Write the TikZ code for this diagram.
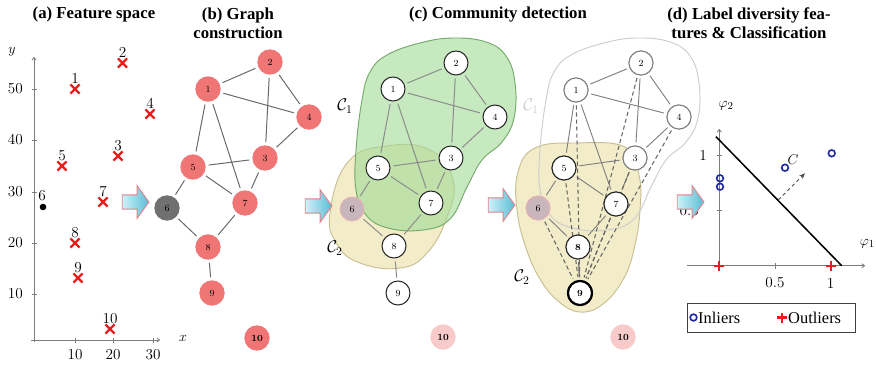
\documentclass[tikz,border=0pt]{standalone}
\usepackage{fontspec}
\newfontfamily\tfont{Liberation Serif}
\usetikzlibrary{arrows.meta,shapes.arrows,shapes.misc}
\definecolor{salmon}{RGB}{240,118,118}
\definecolor{darkg}{RGB}{112,112,112}
\definecolor{palepink}{RGB}{248,202,202}
\definecolor{gfill}{RGB}{160,218,150}
\definecolor{gline}{RGB}{115,170,105}
\definecolor{yfill}{RGB}{242,236,200}
\definecolor{yline}{RGB}{200,190,145}
\definecolor{edgec}{RGB}{105,105,105}
\definecolor{axc}{RGB}{125,125,125}
\definecolor{xred}{RGB}{232,30,30}
\definecolor{pblue}{RGB}{30,40,170}
\definecolor{arl}{RGB}{205,242,250}
\definecolor{arr}{RGB}{90,188,212}
\definecolor{arb}{RGB}{225,130,140}
\definecolor{sixc}{RGB}{200,182,188}
\definecolor{sixb}{RGB}{235,175,180}
\definecolor{cgrey}{RGB}{205,205,205}
\tikzset{
 title/.style={font=\tfont\bfseries\fontsize{14.3}{16.2}\selectfont, align=center},
 axis/.style={draw=axc, line width=0.7pt, -{To[length=3pt,width=4pt]}},
 tickm/.style={draw=axc, line width=0.6pt},
 ticklab/.style={font=\fontsize{13}{13}\selectfont, inner sep=0pt},
 plab/.style={font=\fontsize{13}{13}\selectfont, inner sep=1pt},
 xm/.style={cross out, draw=xred, line width=1.9pt, minimum size=0.21cm, inner sep=0pt},
 nfont/.style={font=\fontsize{8}{8}\selectfont},
 rn/.style={circle, fill=salmon, minimum size=0.76cm, inner sep=0pt, nfont},
 wn/.style={circle, draw=black!85, line width=0.9pt, fill=white, minimum size=0.72cm, inner sep=0pt, nfont},
 gn/.style={wn, draw=black!50},
 sixn/.style={circle, fill=sixc, draw=sixb, line width=0.6pt, minimum size=0.72cm, inner sep=0pt, nfont},
 tenn/.style={circle, fill=palepink, minimum size=0.76cm, inner sep=0pt, nfont, font=\fontsize{8}{8}\selectfont\bfseries},
 edge/.style={draw=edgec, line width=0.85pt},
 ledge/.style={draw=black!50, line width=0.8pt},
 dedge/.style={draw=black!60, line width=0.9pt, dash pattern=on 3.5pt off 2.5pt},
 blockarrow/.style={single arrow, left color=arl, right color=arr, draw=arb, line width=0.8pt,
   minimum height=0.8cm, inner sep=0.2cm, single arrow head extend=0.27cm, single arrow tip angle=108},
 clab/.style={font=\fontsize{14}{14}\selectfont, inner sep=0pt},
 omark/.style={circle, draw=pblue, line width=1.4pt, minimum size=0.2cm, inner sep=0pt},
 pmark/.style={draw=xred, line width=2pt},
 legtext/.style={font=\tfont\fontsize{14}{14}\selectfont, inner sep=0pt, anchor=west},
}
\begin{document}
\begin{tikzpicture}[x=0.03cm,y=-0.03cm]
\useasboundingbox (0,0) rectangle (876,368);

% ---------- titles
\node[title] (ta) at (94,14) {(a) Feature space};
\node[title] (tb) at (238,23.5) {(b) Graph\\construction};
\node[title] (tc) at (498,14) {(c) Community detection};
\node[title] (td) at (749,23.5) {(d) Label diversity fea-\\tures \& Classification};

% ---------- panel (a)
\draw[axis] (34,342) -- (34,57);
\draw[axis] (31,340) -- (160,340);
\foreach \yy/\lab in {89/50,140/40,192/30,243/20,294/10}{
  \draw[tickm] (31.5,\yy) -- (36.5,\yy);
  \node[ticklab, anchor=east] (yl\lab) at (23,\yy) {\lab};
}
\foreach \xx/\lab in {75/10,113/20,153/30}{
  \draw[tickm] (\xx,337.5) -- (\xx,342.5);
  \node[ticklab] (xl\lab) at (\xx,355) {\lab};
}
\node[ticklab] (ylab) at (12,52) {$y$};
\node[ticklab] (xlab) at (183,338) {$x$};
\foreach \n/\px/\py in {1/75/89, 2/122.5/63, 3/118/156, 4/150/114, 5/62/166, 7/103/202, 8/75/243, 9/78/278, 10/110/329}{
  \node[xm] (p\n) at (\px,\py) {};
  \node[plab, anchor=south] (pl\n) at (\px,\py-4) {\n};
}
\fill (43,207) circle (3.3);
\node[plab, anchor=south] (pl6) at (42,202) {6};

% ---------- panel (b)
\node[rn] (b1) at (208,89) {1};
\node[rn] (b2) at (270,62) {2};
\node[rn] (b4) at (309,117) {4};
\node[rn] (b3) at (265,158) {3};
\node[rn] (b5) at (193,167) {5};
\node[rn, fill=darkg] (b6) at (167,208) {6};
\node[rn] (b7) at (245,203) {7};
\node[rn] (b8) at (208,247) {8};
\node[rn] (b9) at (212,293) {9};
\node[rn, font=\fontsize{8}{8}\selectfont\bfseries] (b10) at (257,338) {10};
\begin{scope}[shorten <=2.5pt, shorten >=2.5pt]
\foreach \a/\b in {1/2,1/4,2/4,2/3,3/4,1/5,1/7,5/3,5/7,3/7,5/6,6/8,7/8,8/9}
  \draw[edge] (b\a) -- (b\b);
\end{scope}

% ---------- panel (c)
\filldraw[fill=yfill, draw=yline, line width=0.8pt] plot[smooth cycle, tension=0.75] coordinates {
 (330,213) (348,162) (387,146) (430,150) (453,180) (447,217) (427,253) (400,268) (360,263) (337,244)};
\filldraw[fill=gfill, draw=gline, line width=0.8pt, fill opacity=0.6] plot[smooth cycle, tension=0.7] coordinates {
 (362,100) (356,150) (356,190) (366,215) (388,228) (423,230) (450,219) (467,187) (482,160) (502,142) (514,118) (515,83) (506,56) (486,42) (453,38) (420,43) (387,55) (370,72)};
\node[clab] (c1lab) at (345,106) {$\mathcal{C}_1$};
\node[clab] (c2lab) at (335,248) {$\mathcal{C}_2$};
\node[wn] (c1) at (393,89) {1};
\node[wn] (c2) at (456,63) {2};
\node[wn] (c4) at (495,117) {4};
\node[wn] (c3) at (451,158) {3};
\node[wn] (c5) at (378,168) {5};
\node[sixn] (c6) at (352,209) {6};
\node[wn] (c7) at (431,203) {7};
\node[wn] (c8) at (394,246) {8};
\node[wn] (c9) at (398,293) {9};
\node[tenn] (c10) at (443,337) {10};
\begin{scope}[shorten <=2.5pt, shorten >=2.5pt]
\foreach \a/\b in {1/2,1/4,2/4,2/3,3/4,1/5,1/7,5/3,5/7,3/7,5/6,6/8,7/8,8/9}
  \draw[edge, draw=black!45] (c\a) -- (c\b);
\end{scope}

% ---------- panel (d) graph
\filldraw[fill=yfill, draw=yline, line width=0.8pt] plot[smooth cycle, tension=0.7] coordinates {
 (575,143) (625,147) (639,175) (640,210) (635,245) (624,278) (603,304) (580,312) (558,301) (540,279) (526,248) (517,210) (518,172) (535,148)};
\draw[draw=cgrey, line width=0.8pt] plot[smooth cycle, tension=0.7] coordinates {
 (546,100) (540,150) (540,190) (550,215) (572,228) (607,230) (634,219) (651,187) (666,160) (686,142) (698,118) (699,83) (690,56) (670,42) (637,38) (604,43) (571,55) (554,72)};
\node[clab, text=cgrey] (d1lab) at (531,106) {$\mathcal{C}_1$};
\node[clab] (d2lab) at (522,277) {$\mathcal{C}_2$};
\node[gn] (d1) at (576,90) {1};
\node[gn] (d2) at (641,63) {2};
\node[gn] (d4) at (679,117) {4};
\node[gn] (d3) at (635,158) {3};
\node[wn] (d5) at (564,168) {5};
\node[sixn] (d6) at (538,208) {6};
\node[wn] (d7) at (616,204) {7};
\node[wn, font=\fontsize{8}{8}\selectfont\bfseries] (d8) at (578,247) {8};
\node[wn, line width=1.8pt, draw=black, font=\fontsize{8}{8}\selectfont\bfseries] (d9) at (580,293) {9};
\node[tenn] (d10) at (623,337) {10};
\begin{scope}[shorten <=2.5pt, shorten >=2.5pt]
\foreach \a/\b in {1/2,1/4,2/4,2/3,3/4,1/5,1/7,5/3,5/7,3/7,5/6,6/8,7/8,8/9}
  \draw[ledge] (d\a) -- (d\b);
\foreach \a in {1,2,3,4,5,6,7,8}
  \draw[dedge] (d\a) -- (d9);
\end{scope}
% redraw nodes on top of dashed lines
\node[gn] (d1b) at (d1) {1};
\node[gn] (d2b) at (d2) {2};
\node[gn] (d4b) at (d4) {4};
\node[gn] (d3b) at (d3) {3};
\node[wn] (d5b) at (d5) {5};
\node[sixn] (d6b) at (d6) {6};
\node[wn] (d7b) at (d7) {7};
\node[wn, font=\fontsize{8}{8}\selectfont\bfseries] (d8b) at (d8) {8};
\node[wn, line width=1.8pt, draw=black, font=\fontsize{8}{8}\selectfont\bfseries] (d9b) at (d9) {9};

% ---------- panel (d) plot
\draw[axis] (687,265.7) -- (865,265.7);
\draw[axis] (719.3,268) -- (719.3,129);
\draw[tickm] (775,263) -- (775,268.5);
\draw[tickm] (830.7,263) -- (830.7,268.5);
\draw[tickm] (716.5,210.7) -- (722,210.7);
\draw[tickm] (716.5,155.7) -- (722,155.7);
\node[ticklab] (dx05) at (775,283) {0.5};
\node[ticklab] (dx1) at (830.7,283) {1};
\node[ticklab, anchor=east] (dy05) at (699,210.7) {0.5};
\node[ticklab, anchor=east] (dy1) at (707,155.7) {1};
\node[ticklab] (phi2) at (726,106) {$\varphi_2$};
\node[ticklab, anchor=east] (phi1) at (875,244) {$\varphi_1$};
\coordinate (lA) at (716,136.7);
\coordinate (lB) at (841.7,265.7);
\draw[line width=1.3pt] (lA) -- (lB);
\coordinate (dA) at (778.3,200);
\coordinate (dB) at (805,173.3);
\draw[draw=black!70, line width=0.8pt, dash pattern=on 3pt off 2.5pt, -{Stealth[length=5pt,width=4pt]}] (dA) -- (dB);
\node[ticklab] (Clab) at (793,160) {$C$};
\node[omark] (o1) at (785,167.7) {};
\node[omark] (o2) at (831.7,153.3) {};
\node[omark] (o3) at (720,178.3) {};
\node[omark] (o4) at (720,186.7) {};
\foreach \px in {719.3,830.7}{
  \draw[pmark] (\px-5,265.7) -- (\px+5,265.7);
  \draw[pmark] (\px,260.7) -- (\px,270.7);
}
\draw[draw=black!75, line width=0.7pt] (687,303) rectangle (855,332);
\node[omark] (lo) at (693.5,317.5) {};
\node[legtext] (lin) at (698,317.5) {Inliers};
\draw[pmark] (777,317.5) -- (787,317.5);
\draw[pmark] (782,312.5) -- (782,322.5);
\node[legtext] (lout) at (788,317.5) {Outliers};

% ---------- block arrows
\node[blockarrow] (ar1) at (133,202) {};
\node[blockarrow] (ar2) at (316,206) {};
\node[blockarrow] (ar3) at (499,205) {};
\node[blockarrow] (ar4) at (688,202) {};
\end{tikzpicture}
\end{document}
